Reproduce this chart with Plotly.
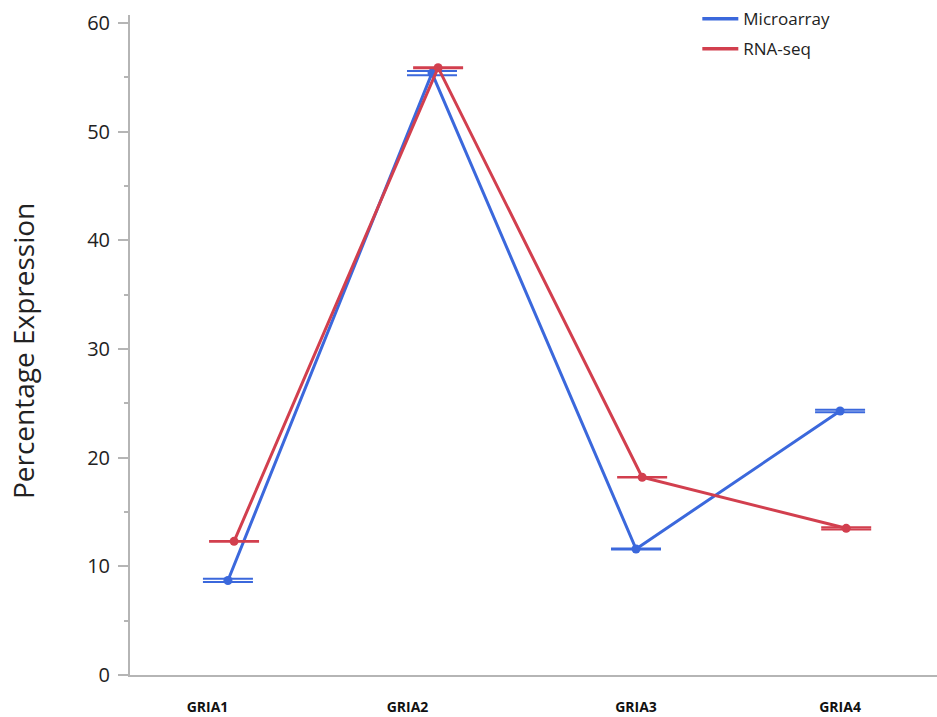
import plotly.graph_objects as go

categories = ["GRIA1", "GRIA2", "GRIA3", "GRIA4"]
cat_pos = [0, 1, 2, 3]
label_pos = [-0.1, 0.88, 2.0, 3.0]
microarray = [8.7, 55.4, 11.6, 24.3]
microarray_err = [0.15, 0.2, 0.05, 0.12]
rnaseq = [12.3, 55.9, 18.2, 13.5]
rnaseq_err = [0.03, 0.05, 0.03, 0.1]
offset = 0.03

blue = "#3b68dc"
red = "#d23f4e"

fig = go.Figure()
fig.add_trace(go.Scatter(
    x=cat_pos, y=microarray, name="Microarray", mode="lines+markers", showlegend=False,
    line=dict(color=blue, width=3), marker=dict(color=blue, size=9),
    error_y=dict(type="data", array=microarray_err, color=blue, thickness=2, width=25),
))
fig.add_trace(go.Scatter(
    x=[p + offset for p in cat_pos], y=rnaseq, name="RNA-seq", mode="lines+markers", showlegend=False,
    line=dict(color=red, width=3), marker=dict(color=red, size=9),
    error_y=dict(type="data", array=rnaseq_err, color=red, thickness=2, width=25),
))
# legend entries (lines only)
fig.add_trace(go.Scatter(x=[None], y=[None], name="Microarray", mode="lines", legendgroup="a",
                         line=dict(color=blue, width=3.5)))
fig.add_trace(go.Scatter(x=[None], y=[None], name="RNA-seq", mode="lines", legendgroup="b",
                         line=dict(color=red, width=3.5)))

fig.update_layout(
    width=937, height=717,
    margin=dict(l=130, r=0, t=15, b=42, autoexpand=False),
    plot_bgcolor="white", paper_bgcolor="white",
    font=dict(family="Open Sans", color="#222"),
    showlegend=True,
    legend=dict(x=0.703, y=1.021, xanchor="left", yanchor="top",
                font=dict(size=17, family="Open Sans", color="#222"),
                bgcolor="rgba(0,0,0,0)", tracegroupgap=5, itemwidth=36),
    annotations=[dict(text="Percentage Expression", textangle=-90, showarrow=False,
                      xref="paper", yref="paper", x=-0.1324, y=0.491,
                      xanchor="center", yanchor="middle",
                      font=dict(size=28, family="Open Sans", color="#222"))],
)
fig.update_xaxes(
    range=[-0.48, 3.475], tickvals=label_pos, ticktext=categories,
    showgrid=False, zeroline=False, showline=True, linecolor="#b5b5b5", linewidth=2,
    ticks="", ticklabelstandoff=18,
    tickfont=dict(size=14, family="Open Sans", color="#111", weight="bold"),
)
fig.update_yaxes(
    range=[0, 60.75], tickvals=[0, 10, 20, 30, 40, 50, 60],
    showgrid=False, zeroline=False, showline=True, linecolor="#b5b5b5", linewidth=2,
    ticks="outside", ticklen=10, tickcolor="#b5b5b5", tickwidth=1.5,
    ticklabelstandoff=4,
    minor=dict(dtick=5, ticks="outside", ticklen=4, tickcolor="#b5b5b5", tickwidth=1.5),
    tickfont=dict(size=20, family="Open Sans", color="#222"),
)

fig.write_html("out.html", config={"displayModeBar": False},
               post_script="document.body.style.margin='0';")
